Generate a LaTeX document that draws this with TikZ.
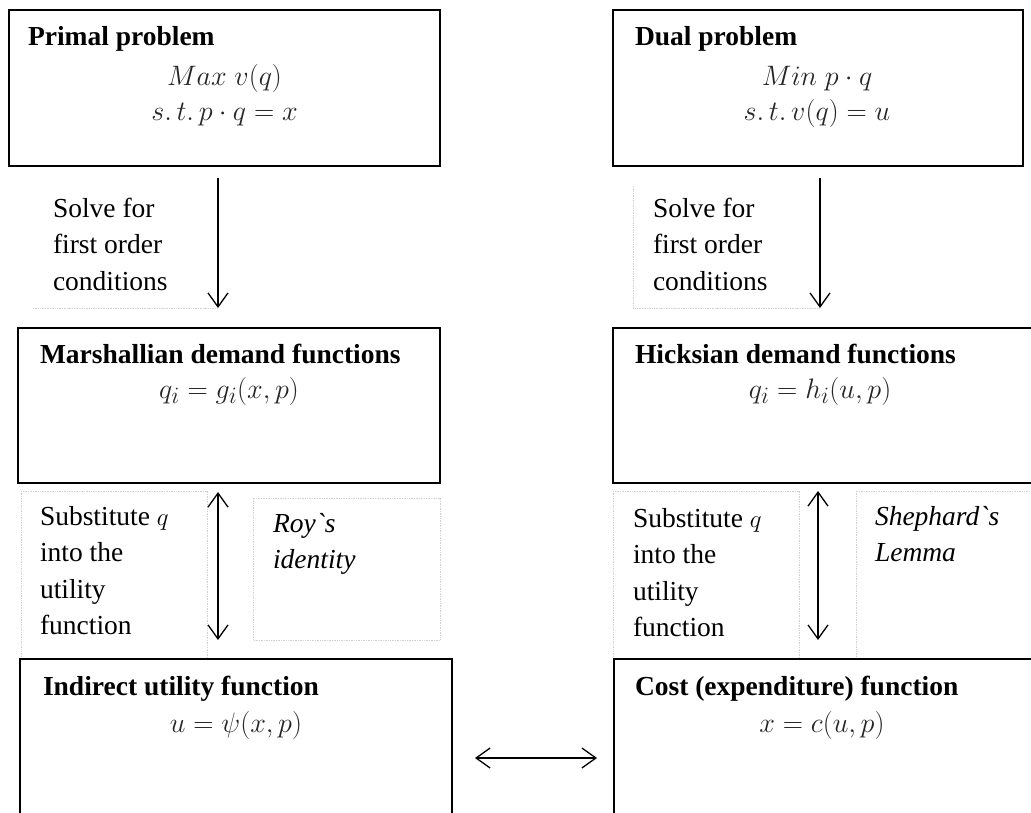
\documentclass[tikz,border=0pt]{standalone}
\usepackage{fontspec}
\setmainfont{Liberation Serif}[Ligatures=TeXOff]
\usetikzlibrary{arrows.meta}
\begin{document}
\begin{tikzpicture}[x=1pt,y=-1pt,
  every node/.style={inner sep=0pt, outer sep=0pt, font=\fontsize{27.5}{36.5}\selectfont},
  bigbox/.style={draw=black, line width=1.4pt, anchor=north west, minimum width=#1},
  head/.style={anchor=base west, font=\fontsize{27.5}{36.5}\selectfont\bfseries},
  mth/.style={anchor=base, text=black!85, scale=1.13},
  lbl/.style={anchor=north west, align=left},
  faint/.style={draw=black!18, densely dotted, line width=0.7pt},
  arr/.style={line width=1.3pt, -{Straight Barb[length=14pt,width=20pt]}},
  darr/.style={line width=1.3pt, {Straight Barb[length=14pt,width=20pt]}-{Straight Barb[length=14pt,width=20pt]}}]
\useasboundingbox (0,0) rectangle (1031,812);
\fill[white] (0,0) rectangle (1031,812);

% faint label frames
\draw[faint] (33,308) -- (218,308);
\draw[faint] (633,186) -- (633,308) -- (820,308);
\draw[faint] (21,491) rectangle (207,659);
\draw[faint] (253,498) rectangle (440,640);
\draw[faint] (613,491) rectangle (799,659);
\draw[faint] (856,491) rectangle (1040,659);

% main boxes
\node[bigbox=431, minimum height=156] (primal) at (9,10) {};
\node[bigbox=410, minimum height=156] (dual) at (613,10) {};
\node[bigbox=422, minimum height=155] (marsh) at (18,328) {};
\node[bigbox=430, minimum height=155] (hicks) at (613,328) {};
\node[bigbox=432, minimum height=175] (indir) at (20,659) {};
\node[bigbox=430, minimum height=175] (cost) at (614,659) {};

% headings
\node[head] (primalT) at (28,45) {Primal problem};
\node[head] (dualT) at (635,45) {Dual problem};
\node[head] (marshT) at (40,363) {Marshallian demand functions};
\node[head] (hicksT) at (635,363) {Hicksian demand functions};
\node[head] (indirT) at (43,695) {Indirect utility function};
\node[head] (costT) at (635,695) {Cost (expenditure) function};

% formulas
\node[mth] (primalA) at (224.5,85) {$Max\ v(q)$};
\node[mth] (primalB) at (224.5,120) {$s.\,t.\,p\cdot q=x$};
\node[mth] (dualA) at (817,85) {$Min\ p\cdot q$};
\node[mth] (dualB) at (817,120) {$s.\,t.\,v(q)=u$};
\node[mth] (marshF) at (229,398) {$q_i=g_i(x,p)$};
\node[mth] (hicksF) at (820,398) {$q_i=h_i(u,p)$};
\node[mth] (indirF) at (236,732) {$u=\psi(x,p)$};
\node[mth] (costF) at (822,732) {$x=c(u,p)$};

% labels
\node[lbl] (solveL) at (53,198) {Solve for\\first order\\conditions};
\node[lbl] (solveR) at (653,198) {Solve for\\first order\\conditions};
\node[lbl] (subL) at (40,506) {Substitute $q$\\into the\\utility\\function};
\node[lbl] (subR) at (633,508) {Substitute $q$\\into the\\utility\\function};
\node[lbl, font=\fontsize{27.5}{36.5}\selectfont\itshape] (roy) at (273,513) {Roy`s\\identity};
\node[lbl, font=\fontsize{27.5}{36.5}\selectfont\itshape] (shep) at (875,506) {Shephard`s\\Lemma};

% arrow end points
\coordinate (a1s) at (218,178); \coordinate (a1e) at (218,308);
\coordinate (a2s) at (820,178); \coordinate (a2e) at (820,308);
\coordinate (a3s) at (218,492); \coordinate (a3e) at (218,640);
\coordinate (a4s) at (818,491); \coordinate (a4e) at (818,640);
\coordinate (a5s) at (475,758); \coordinate (a5e) at (597,758);

\draw[arr] (a1s) -- (a1e);
\draw[arr] (a2s) -- (a2e);
\draw[darr] (a3s) -- (a3e);
\draw[darr] (a4s) -- (a4e);
\draw[darr] (a5s) -- (a5e);
\end{tikzpicture}
\end{document}
